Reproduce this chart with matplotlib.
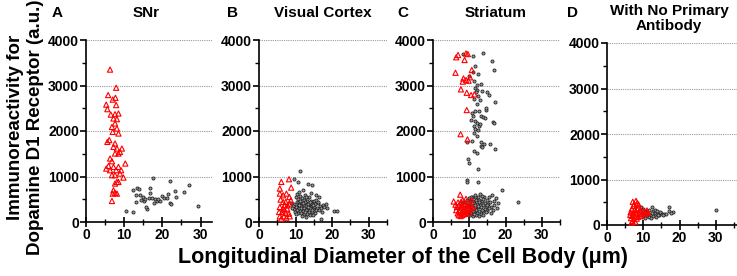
import numpy as np
import matplotlib
matplotlib.use("Agg")
from matplotlib import pyplot as plt
from matplotlib.ticker import MultipleLocator

plt.rcParams['font.family'] = ['Liberation Sans', 'DejaVu Sans']
plt.rcParams['font.weight'] = 'bold'

# panel titles / letters
letters = ['A', 'B', 'C', 'D']
titles = ['SNr', 'Visual Cortex', 'Striatum', 'With No Primary\nAntibody']

# (diameter um, immunoreactivity a.u.) -- red = D1 positive, black = others
snr_red = [(6.3, 3350), (7.9, 2950), (5.8, 2790), (7.0, 2690), (7.7, 2730), (5.3, 2580),
           (5.6, 2480), (7.9, 2570), (6.5, 2360), (7.6, 2370), (8.5, 2385), (7.2, 2275),
           (8.1, 2260), (7.6, 2165), (6.8, 2090), (8.1, 2055), (7.0, 1980), (8.5, 1945),
           (6.1, 1800), (5.6, 1760), (7.6, 1725), (7.2, 1650), (8.1, 1615), (9.4, 1615),
           (8.5, 1505), (7.6, 1505), (8.9, 1540), (10.3, 1285), (6.3, 1395), (6.8, 1336),
           (5.9, 1233), (7.2, 1211), (8.5, 1211), (5.3, 1174), (6.3, 1138), (7.9, 1138),
           (9.2, 1138), (8.9, 1064), (6.8, 1028), (7.6, 1028), (9.8, 976), (8.1, 880),
           (7.6, 845), (8.5, 880), (7.2, 697), (7.0, 624), (7.6, 640), (8.1, 624), (6.8, 462)]
snr_blk = [(17.5, 960), (21.9, 900), (27.1, 820), (23.4, 681), (25.6, 659), (12.2, 703),
           (13.3, 754), (14.0, 718), (13.2, 593), (14.2, 593), (14.9, 557), (16.8, 740),
           (16.7, 644), (16.4, 520), (15.1, 469), (13.2, 447), (18.2, 498), (18.6, 462),
           (19.9, 579), (20.3, 520), (19.5, 469), (21.5, 615), (22.1, 425), (23.6, 557),
           (29.3, 359), (10.5, 242), (12.3, 227), (16.0, 278), (15.8, 322), (17.3, 535),
           (14.4, 484), (15.5, 498), (17.7, 410), (21.2, 535), (18.9, 498), (22.3, 396)]

vis_red = [(8.2, 940), (6.1, 880), (8.8, 756), (5.7, 734), (5.7, 624), (6.6, 587), (7.5, 624),
           (8.3, 550), (5.9, 492), (7.3, 440), (8.4, 404), (7.0, 367), (5.7, 330), (6.6, 294),
           (7.7, 294), (5.5, 220), (6.4, 220), (7.3, 198), (8.2, 183), (5.7, 125), (6.8, 125),
           (7.5, 95), (6.1, 73), (8.4, 125), (7.0, 257), (7.8, 367), (8.7, 477), (6.6, 440)]
vis_blk = [(11.1, 1120), (9.7, 950), (10.6, 880), (13.3, 840), (14.5, 810), (12.0, 700),
           (10.2, 550), (15.6, 590), (16.5, 550), (18.3, 400), (20.5, 240), (21.2, 240),
           (16.9, 70), (9.7, 400), (10.5, 620), (11.3, 580), (12.6, 600), (13.8, 560),
           (10.8, 500), (11.7, 520), (12.4, 480), (13.1, 500), (14.2, 470), (15.0, 460),
           (16.2, 420), (17.4, 380), (10.3, 450), (11.0, 430), (11.8, 410), (12.7, 430),
           (13.5, 420), (14.6, 400), (15.4, 390), (16.6, 360), (10.6, 380), (11.4, 360),
           (12.2, 370), (12.9, 350), (13.7, 360), (14.3, 340), (15.1, 330), (15.8, 310),
           (16.9, 300), (10.1, 330), (10.9, 310), (11.6, 300), (12.4, 310), (13.2, 290),
           (14.0, 300), (14.8, 280), (15.5, 260), (16.3, 270), (9.6, 280), (10.4, 260),
           (11.2, 250), (12.0, 240), (12.8, 260), (13.6, 230), (14.4, 220), (15.2, 200),
           (10.7, 200), (11.5, 190), (12.3, 180), (13.1, 170), (13.9, 160), (14.7, 150),
           (11.8, 130), (12.9, 120), (9.9, 230), (10.9, 370), (12.1, 420), (13.4, 390),
           (14.9, 370), (11.3, 470), (12.8, 540), (13.9, 450), (15.7, 480), (17.8, 340),
           (18.6, 300), (9.3, 360), (8.8, 420), (9.0, 300), (11.0, 660), (14.1, 640),
           (16.0, 430), (12.6, 210), (13.3, 330), (14.5, 260), (10.2, 170), (17.1, 230)]

str_red = [(6.4, 3620), (6.9, 3670), (9.1, 3705), (9.6, 3690), (8.7, 3560), (6.2, 3280),
           (10.7, 3340), (8.4, 3155), (9.1, 3120), (8.2, 3085), (9.8, 3105), (10.2, 3180),
           (7.7, 2915), (9.3, 2840), (10.5, 2790), (11.4, 2805), (9.3, 2460), (7.6, 1930),
           (9.5, 1815),
           (7.5, 600), (5.7, 450), (6.9, 430), (8.2, 480), (9.1, 510), (10.7, 480), (7.7, 330),
           (8.9, 370), (6.4, 260), (7.3, 220), (8.4, 240), (9.5, 290), (7.1, 150), (8.0, 150),
           (9.1, 180), (10.0, 260), (10.9, 330), (6.6, 330), (8.6, 290), (7.7, 440), (6.8, 190),
           (7.9, 200), (8.8, 220), (9.8, 200), (7.4, 270), (8.2, 330), (9.3, 360), (10.3, 390),
           (6.2, 380), (7.1, 360), (8.5, 170), (9.7, 340), (7.6, 130), (10.5, 300)]
str_blk = [(8.2, 3690), (10.9, 3640), (13.8, 3720), (16.3, 3540), (16.9, 3340), (11.6, 3420),
           (11.0, 3300), (10.0, 3200), (12.5, 3250), (11.2, 3100), (12.0, 3020), (13.2, 3030),
           (11.5, 2950), (12.2, 2900), (11.8, 2850), (13.5, 2870), (14.8, 2850), (15.3, 2800),
           (12.3, 2780), (11.4, 2700), (13.0, 2680), (17.2, 2640), (12.2, 2600), (14.5, 2470),
           (14.7, 2500), (11.5, 2440), (12.6, 2450), (10.8, 2400), (11.0, 2330), (13.2, 2340),
           (13.8, 2300), (14.3, 2280), (10.4, 2240), (11.5, 2230), (12.0, 2180), (12.6, 2120),
           (11.2, 2100), (13.0, 2150), (16.4, 2190), (16.9, 2180), (11.7, 2050), (12.3, 2020),
           (11.4, 1950), (12.0, 1880), (10.8, 1790), (9.3, 1760), (13.2, 1760), (14.0, 1720),
           (15.6, 1710), (13.2, 1660), (13.4, 1640), (11.4, 1570), (12.0, 1520), (17.0, 1600),
           (9.7, 1390), (9.8, 1290), (12.4, 1170), (9.4, 920), (9.5, 890), (12.5, 880),
           (23.4, 440), (18.9, 710), (16.2, 590), (17.9, 420), (17.3, 520), (15.4, 560),
           (16.8, 380), (15.9, 320), (16.5, 260), (14.8, 480), (14.1, 550), (13.4, 580),
           (12.5, 560), (11.6, 540), (10.8, 560), (9.9, 520), (9.3, 480), (8.7, 430),
           (10.2, 460), (11.0, 470), (11.9, 480), (12.8, 490), (13.6, 470), (14.4, 420),
           (15.2, 390), (9.6, 400), (10.5, 390), (11.3, 410), (12.1, 400), (13.0, 410),
           (13.8, 380), (14.6, 340), (15.5, 300), (9.0, 350), (9.8, 340), (10.7, 320),
           (11.5, 340), (12.4, 330), (13.3, 320), (14.2, 290), (15.0, 250), (8.6, 300),
           (9.4, 280), (10.2, 270), (11.1, 280), (11.9, 270), (12.8, 250), (13.7, 240),
           (14.5, 210), (9.0, 220), (9.8, 210), (10.6, 200), (11.4, 220), (12.2, 200),
           (13.1, 180), (13.9, 160), (10.1, 150), (11.0, 140), (11.8, 160), (12.6, 130),
           (8.3, 250), (7.8, 350), (8.1, 450), (10.4, 550), (11.7, 600), (12.9, 620),
           (13.8, 500), (15.7, 450), (16.9, 470), (17.6, 300), (10.9, 240), (11.6, 380),
           (12.7, 440), (9.5, 170), (14.9, 370), (13.5, 270), (12.3, 360), (10.8, 420),
           (11.3, 180), (16.1, 200)]

noab_red = [(7.1, 510), (8.0, 530), (8.3, 480), (7.5, 460), (7.3, 420), (8.7, 450), (6.8, 350),
            (7.6, 330), (8.4, 340), (9.2, 320), (10.0, 300), (10.8, 290), (11.3, 270), (6.5, 280),
            (7.2, 260), (8.0, 250), (8.8, 240), (9.6, 250), (10.4, 240), (6.9, 200), (7.7, 190),
            (8.5, 180), (9.3, 200), (6.6, 150), (7.4, 130), (8.2, 140), (7.0, 90), (7.8, 70),
            (6.8, 50), (9.0, 290), (7.9, 300), (6.4, 220), (11.0, 320), (8.6, 380)]
noab_blk = [(9.3, 400), (9.8, 350), (10.4, 300), (11.0, 280), (11.6, 330), (12.3, 390),
            (12.8, 310), (13.3, 270), (13.9, 250), (14.4, 230), (15.0, 270), (15.6, 250),
            (16.2, 240), (17.0, 400), (17.2, 310), (18.1, 290), (17.6, 260), (10.2, 220),
            (10.9, 200), (11.5, 180), (12.1, 230), (12.7, 200), (13.5, 180), (14.1, 210),
            (9.7, 170), (10.6, 150), (11.3, 260), (12.5, 270), (13.1, 330), (14.6, 290),
            (30.0, 330), (12.0, 160), (13.7, 300), (10.1, 260), (15.3, 220)]

panels = [(snr_red, snr_blk), (vis_red, vis_blk), (str_red, str_blk), (noab_red, noab_blk)]

W, H = 737, 276
fig = plt.figure(figsize=(W / 100, H / 100), dpi=100)

# axes boxes in pixels: left, right, top, bottom, xmax
boxes = [(86, 212, 40, 222, 33), (259, 387, 40, 222, 35),
         (433, 560, 40, 222, 35), (607, 737, 43, 225, 35.8)]
letter_x = [57, 232, 403, 573]
title_x = [146, 323, 496, 669]

for i in range(4):
    l, r, t, b, xmax = boxes[i]
    ax = fig.add_axes([l / W, 1 - b / H, (r - l) / W, (b - t) / H])
    red, blk = panels[i]
    bx, by = zip(*blk)
    rx, ry = zip(*red)
    ax.scatter(bx, by, s=5, marker='o', facecolors='#999999', edgecolors='#222222',
               linewidths=0.6, zorder=3, clip_on=False)
    ax.scatter(rx, ry, s=14, marker='^', facecolors='none', edgecolors='#ff0000',
               linewidths=0.8, zorder=4, clip_on=False)
    ax.set_xlim(0, xmax)
    ax.set_ylim(0, 4000)
    ax.set_yticks([0, 1000, 2000, 3000, 4000])
    ax.set_xticks([0, 10, 20, 30])
    ax.xaxis.set_minor_locator(MultipleLocator(5))
    ax.yaxis.set_minor_locator(MultipleLocator(500))
    for y in [1000, 2000, 3000, 4000]:
        ax.axhline(y, color='#999999', linestyle=(0, (1, 1)), linewidth=0.8, zorder=1)
    for s in ['top', 'right']:
        ax.spines[s].set_visible(False)
    for s in ['left', 'bottom']:
        ax.spines[s].set_linewidth(1.2)
    ax.tick_params(axis='x', which='major', direction='inout', length=7, width=1.2,
                   labelsize=10, pad=1)
    ax.tick_params(axis='x', which='minor', direction='inout', length=5, width=1.0)
    ax.tick_params(axis='y', which='major', direction='out', length=4, width=1.2,
                   labelsize=10, pad=1)
    ax.tick_params(axis='y', which='minor', direction='out', length=3, width=1.0)
    for lab in ax.get_xticklabels() + ax.get_yticklabels():
        lab.set_fontweight('bold')

    fig.text(letter_x[i] / W, 1 - 13 / H, letters[i], fontsize=11, fontweight='bold',
             ha='center', va='center')
    if i == 3:
        fig.text(title_x[i] / W, 1 - 4 / H, titles[i], fontsize=11, fontweight='bold',
                 ha='center', va='top', linespacing=1.05)
    else:
        fig.text(title_x[i] / W, 1 - 13 / H, titles[i], fontsize=11, fontweight='bold',
                 ha='center', va='center')

fig.text(16 / W, 1 - 127 / H, 'Immunoreactivity for', rotation=90, fontsize=13.5,
         fontweight='bold', ha='center', va='center')
fig.text(36 / W, 1 - 127 / H, 'Dopamine D1 Receptor (a.u.)', rotation=90, fontsize=13.5,
         fontweight='bold', ha='center', va='center')
fig.text(403 / W, 1 - 257 / H, 'Longitudinal Diameter of the Cell Body (\u03bcm)',
         fontsize=15.5, fontweight='bold', ha='center', va='center')

fig.savefig('out.png', dpi=100)
